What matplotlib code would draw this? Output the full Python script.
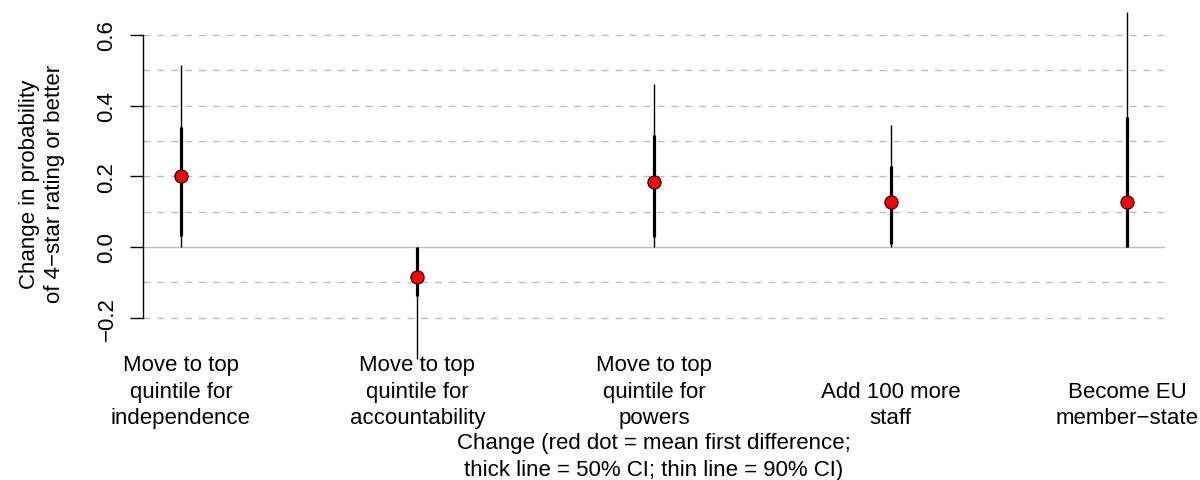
import matplotlib
matplotlib.use("Agg")
import matplotlib.pyplot as plt
from matplotlib import transforms

plt.rcParams['font.family'] = ['Liberation Sans', 'DejaVu Sans']

categories = ["Move to top\nquintile for\nindependence",
              "Move to top\nquintile for\naccountability",
              "Move to top\nquintile for\npowers",
              "Add 100 more\nstaff",
              "Become EU\nmember\u2212state"]
means = [0.200, -0.085, 0.183, 0.127, 0.128]
lo50 = [0.032, -0.138, 0.027, 0.008, 0.000]
hi50 = [0.340, 0.000, 0.317, 0.230, 0.367]
lo90 = [0.000, -0.317, 0.000, 0.000, 0.000]
hi90 = [0.516, 0.000, 0.461, 0.346, 0.665]
yticks = [-0.2, 0.0, 0.2, 0.4, 0.6]
ytick_labels = ["\u22120.2", "0.0", "0.2", "0.4", "0.6"]
grid_levels = [-0.2, -0.1, 0.1, 0.2, 0.3, 0.4, 0.5, 0.6]
ylabel = "Change in probability\nof 4\u2212star rating or better"
xlabel = "Change (red dot = mean first difference;\nthick line = 50% CI; thin line = 90% CI)"

W, H = 1200, 481
fig = plt.figure(figsize=(W / 100, H / 100), dpi=100)
ax = fig.add_axes([143 / W, 1 - 330 / H, (1165 - 143) / W, (330 - 24.6) / H])
xs = list(range(1, len(categories) + 1))
ax.set_xlim(0.84, 5.16)
ax.set_ylim(-0.232, 0.632)

for s in ['top', 'right', 'bottom']:
    ax.spines[s].set_visible(False)
ax.spines['left'].set_bounds(-0.2, 0.6)
ax.spines['left'].set_linewidth(1.0)
ax.set_xticks([])
ax.set_yticks(yticks)
ax.set_yticklabels(ytick_labels, rotation=90, va='center', fontsize=16)
ax.tick_params(axis='y', length=9.4, width=1.0, pad=9)

for g in grid_levels:
    ax.axhline(g, color='#BEBEBE', lw=1.0, ls=(0, (5, 5)), zorder=1)
ax.axhline(0.0, color='#BEBEBE', lw=1.0, zorder=1)

ax.vlines(xs, lo90, hi90, color='black', lw=1.0, zorder=3, clip_on=False)
ax.vlines(xs, lo50, hi50, color='black', lw=2.3, zorder=4, clip_on=False)
ax.plot(xs, means, 'o', ms=9.5, mfc='red', mec='black', mew=0.8, zorder=5, clip_on=False)

tr = transforms.blended_transform_factory(ax.transData, fig.transFigure)
line_h = 26.7
for x, lab in zip(xs, categories):
    lines = lab.split("\n")
    n = len(lines)
    for i, ln in enumerate(lines):
        base = 424.4 - (n - 1 - i) * line_h
        ax.text(x, 1 - base / H, ln, transform=tr, ha='center', va='baseline', fontsize=16)

for i, ln in enumerate(xlabel.split("\n")):
    base = 449.5 + i * line_h
    ax.text(3, 1 - base / H, ln, transform=tr, ha='center', va='baseline', fontsize=16)

fig.text(42 / W, 1 - 184 / H, ylabel, rotation=90, ha='center', va='center',
         fontsize=16, linespacing=1.2, multialignment='center')

fig.savefig("out.png", dpi=100)
